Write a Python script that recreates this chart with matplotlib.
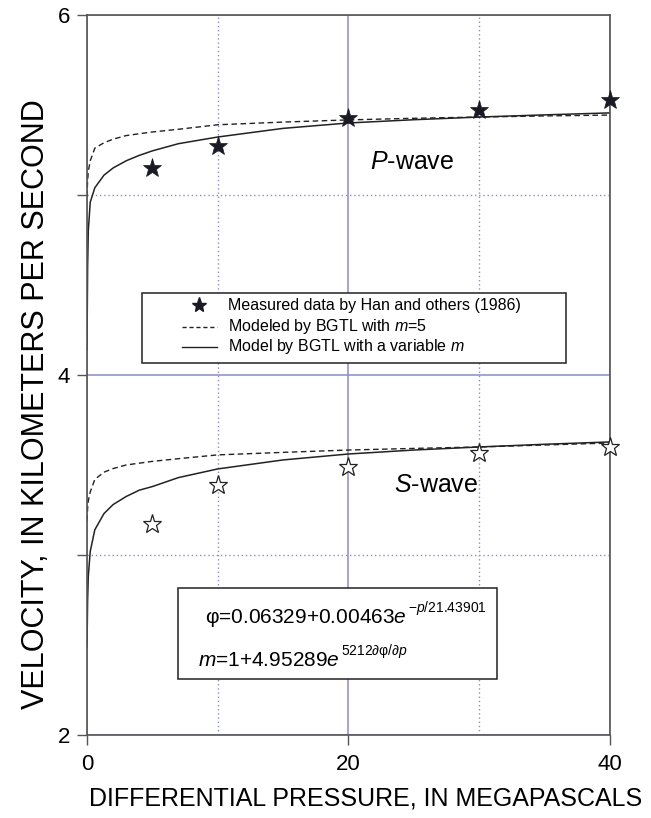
import matplotlib
matplotlib.use("Agg")
import matplotlib.pyplot as plt
from matplotlib.patches import Rectangle
from matplotlib.ticker import MultipleLocator
from matplotlib.lines import Line2D

plt.rcParams['font.family'] = ['Liberation Sans', 'DejaVu Sans']
plt.rcParams['mathtext.fontset'] = 'custom'
plt.rcParams['mathtext.rm'] = 'Liberation Sans'
plt.rcParams['mathtext.it'] = 'Liberation Sans:italic'

# measured data (Han and others, 1986)
p_meas = [5, 10, 20, 30, 40]
vp_meas = [5.15, 5.272, 5.428, 5.472, 5.528]
vs_meas = [3.172, 3.389, 3.489, 3.567, 3.60]

# model curves
p_model = [0, 0.05, 0.1, 0.25, 0.6, 1.3, 2, 3, 4, 5, 7, 10, 15, 20, 25, 30, 35, 40]
vp_var = [4.14, 4.6, 4.8, 4.96, 5.04, 5.11, 5.15, 5.19, 5.22, 5.245, 5.285, 5.322,
          5.37, 5.40, 5.418, 5.433, 5.445, 5.456]
vp_m5 = [4.99, 5.08, 5.13, 5.19, 5.26, 5.29, 5.31, 5.33, 5.34, 5.35, 5.365, 5.39,
         5.405, 5.417, 5.426, 5.433, 5.439, 5.444]
vs_var = [2.49, 2.75, 2.88, 3.02, 3.14, 3.23, 3.28, 3.325, 3.36, 3.38, 3.43, 3.478,
          3.528, 3.561, 3.583, 3.60, 3.615, 3.628]
vs_m5 = [3.19, 3.26, 3.30, 3.35, 3.42, 3.46, 3.48, 3.50, 3.51, 3.52, 3.535, 3.556,
         3.57, 3.583, 3.592, 3.60, 3.611, 3.622]

fig = plt.figure(figsize=(6.51, 8.18), dpi=100)
ax = fig.add_axes([0.1336, 0.1015, 0.8034, 0.8802])

grid_col = '#8c8cc8'
ax.set_xlim(0, 40)
ax.set_ylim(2, 6)
ax.xaxis.set_major_locator(MultipleLocator(20))
ax.xaxis.set_minor_locator(MultipleLocator(10))
ax.yaxis.set_major_locator(MultipleLocator(2))
ax.yaxis.set_minor_locator(MultipleLocator(1))
ax.grid(which='major', color=grid_col, lw=1.1, ls='-')
ax.grid(which='minor', color=grid_col, lw=1.0, ls=(0, (1, 2)))
ax.set_axisbelow(True)

for s in ax.spines.values():
    s.set_color('#555555')
    s.set_linewidth(1.2)
ax.tick_params(which='major', direction='out', length=7, width=1, color='#555555',
               labelsize=16)
ax.tick_params(axis='x', which='major', pad=7)
ax.tick_params(axis='y', which='major', pad=5)
ax.tick_params(axis='y', which='minor', direction='out', length=7, width=1, color='#555555')
ax.tick_params(axis='x', which='minor', length=0)

# curves
ax.plot(p_model, vp_m5, color='#222222', lw=1.0, ls=(0, (4, 2.5)))
ax.plot(p_model, vp_var, color='#222222', lw=1.1)
ax.plot(p_model, vs_m5, color='#222222', lw=1.0, ls=(0, (4, 2.5)))
ax.plot(p_model, vs_var, color='#222222', lw=1.1)

ax.plot(p_meas, vp_meas, ls='none', marker='*', ms=14, color='#1a1a24',
        markeredgewidth=0.5, clip_on=False, zorder=5)
ax.plot(p_meas, vs_meas, ls='none', marker='*', ms=14, markerfacecolor='white',
        markeredgecolor='#222222', markeredgewidth=0.9, clip_on=False, zorder=5)

ax.text(24.9, 5.183, '$P$-wave', fontsize=18, ha='center', va='center')
ax.text(26.7, 3.39, '$S$-wave', fontsize=18, ha='center', va='center')

# legend box drawn by hand
lx0, lx1, ly0, ly1 = 0.105, 0.916, 0.517, 0.614
ax.add_patch(Rectangle((lx0, ly0), lx1 - lx0, ly1 - ly0, transform=ax.transAxes,
                       facecolor='white', edgecolor='#222222', lw=1.1, zorder=6))
rows = [0.597, 0.567, 0.539]
hx0, hx1 = 0.181, 0.248
ax.add_line(Line2D([(hx0 + hx1) / 2], [rows[0]], transform=ax.transAxes, marker='*',
                   ms=11, color='#1a1a24', ls='none', zorder=7))
ax.add_line(Line2D([hx0, hx1], [rows[1]] * 2, transform=ax.transAxes, color='#222222',
                   lw=1.0, ls=(0, (3, 2)), zorder=7))
ax.add_line(Line2D([hx0, hx1], [rows[2]] * 2, transform=ax.transAxes, color='#222222',
                   lw=1.0, zorder=7))
labels = ['Measured data by Han and others (1986)',
          'Modeled by BGTL with $m$=5',
          'Model by BGTL with a variable $m$']
for yy, lab in zip(rows, labels):
    ax.text(0.270, yy, lab, transform=ax.transAxes, fontsize=11.5, va='center',
            ha='left', zorder=7)

# formula box: base text, then a smaller raised exponent placed after it
ax.add_patch(Rectangle((0.174, 0.078), 0.61, 0.126, transform=ax.transAxes,
                       facecolor='white', edgecolor='#222222', lw=1.1, zorder=6))
renderer = fig.canvas.get_renderer()
formulas = [(0.226, 0.162, 'φ=0.06329+0.00463$e$', '$-p/21.43901$'),
            (0.212, 0.103, '$m$=1+4.95289$e$', '5212∂φ/∂$p$')]
for fx, fy, base, expo in formulas:
    t = ax.text(fx, fy, base, transform=ax.transAxes, fontsize=15, va='center',
                ha='left', zorder=7)
    bb = t.get_window_extent(renderer)
    x_end = ax.transAxes.inverted().transform((bb.x1, bb.y0))[0]
    ax.text(x_end + 0.002, fy + 0.014, expo, transform=ax.transAxes, fontsize=10,
            va='center', ha='left', zorder=7)

ax.set_xlabel('DIFFERENTIAL PRESSURE, IN MEGAPASCALS', fontsize=18)
ax.xaxis.set_label_coords(0.533, -0.072)
ax.set_ylabel('VELOCITY, IN KILOMETERS PER SECOND', fontsize=22)
ax.yaxis.set_label_coords(-0.068, 0.46)

fig.savefig('out.png', dpi=100)
